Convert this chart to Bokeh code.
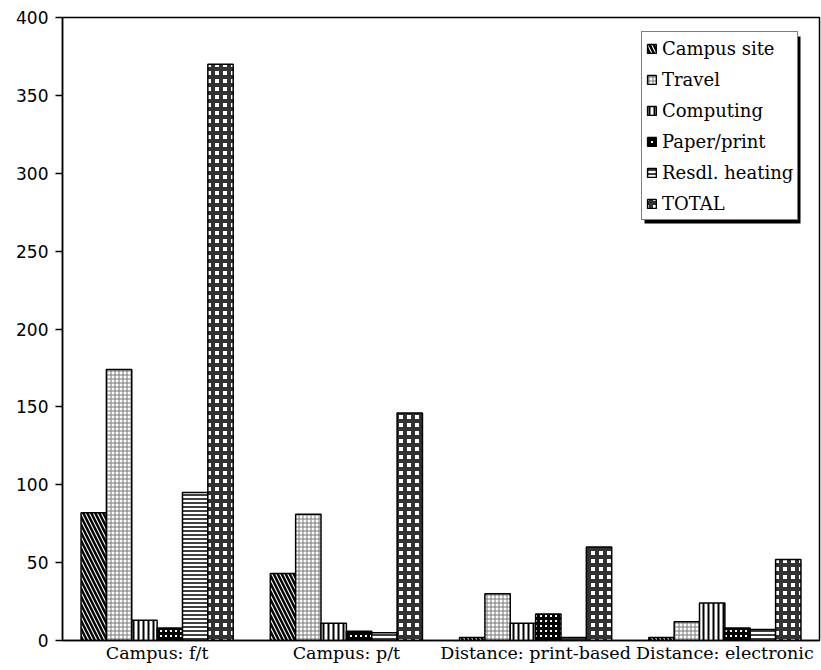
from bokeh.plotting import figure
from bokeh.models import (FactorRange, Range1d, Legend, LegendItem, FixedTicker,
                          BoxAnnotation, ColumnDataSource)
from bokeh.transform import dodge
from bokeh.embed import file_html
from bokeh.resources import INLINE

groups = ["Campus: f/t", "Campus: p/t", "Distance: print-based", "Distance: electronic"]
series = ["Campus site", "Travel", "Computing", "Paper/print", "Resdl. heating", "TOTAL"]
campus_site = [82, 43, 2, 2]
travel = [174, 81, 30, 12]
computing = [13, 11, 11, 24]
paper_print = [8, 6, 17, 8]
resdl_heating = [95, 5, 2, 7]
total = [370, 146, 60, 52]
y_ticks = [0, 50, 100, 150, 200, 250, 300, 350, 400]

values = [campus_site, travel, computing, paper_print, resdl_heating, total]
keys = ["campus_site", "travel", "computing", "paper_print", "resdl_heating", "total"]
src = ColumnDataSource(dict(group=groups, **{k: v for k, v in zip(keys, values)}))

SERIF = "DejaVu Serif"

styles = [
    dict(fill_color="white", hatch_pattern="left_diagonal_line", hatch_color="black", hatch_weight=2.5, hatch_scale=8),
    dict(fill_color="white", hatch_pattern="cross", hatch_color="#777777", hatch_weight=1, hatch_scale=4),
    dict(fill_color="white", hatch_pattern="vertical_line", hatch_color="black", hatch_weight=2, hatch_scale=5),
    dict(fill_color="white", hatch_pattern="cross", hatch_color="black", hatch_weight=3, hatch_scale=5),
    dict(fill_color="white", hatch_pattern="horizontal_line", hatch_color="black", hatch_weight=1.5, hatch_scale=4),
    dict(fill_color="white", hatch_pattern="cross", hatch_color="#333333", hatch_weight=4, hatch_scale=8),
]

p = figure(x_range=FactorRange(factors=groups, range_padding=0),
           y_range=Range1d(0, 400),
           width=821, height=668, output_backend="svg", toolbar_location=None,
           min_border_left=62, min_border_right=2, min_border_top=17, min_border_bottom=28)

bw = 0.134
renderers = []
for i, (k, st) in enumerate(zip(keys, styles)):
    r = p.vbar(x=dodge("group", (i - 2.5) * bw, range=p.x_range), top=k, width=bw,
               source=src, line_color="black", line_width=1.5, **st)
    renderers.append(r)

p.xgrid.visible = False
p.ygrid.visible = False
p.outline_line_color = "black"
p.outline_line_width = 1.5
p.background_fill_color = "white"

ya = p.yaxis[0]
ya.ticker = FixedTicker(ticks=y_ticks)
ya.major_tick_in = 0
ya.major_tick_out = 7
ya.minor_tick_line_color = None
ya.axis_line_width = 1.5
ya.major_tick_line_width = 1.5
ya.major_label_text_font = "DejaVu Sans"
ya.major_label_text_font_size = "17px"
ya.major_label_text_color = "black"
ya.major_label_standoff = 7

xa = p.xaxis[0]
xa.major_tick_line_color = None
xa.major_tick_in = 0
xa.major_tick_out = 0
xa.minor_tick_line_color = None
xa.minor_tick_in = 0
xa.minor_tick_out = 0
xa.axis_line_width = 1.5
xa.major_label_text_font = SERIF
xa.major_label_text_font_size = "17.5px"
xa.major_label_text_color = "black"
xa.major_label_standoff = 2

leg_x, leg_y, leg_w, leg_h = 579, 420, 156, 187
shadow = BoxAnnotation(left=leg_x + 3, right=leg_x + leg_w + 3,
                       top=leg_y + leg_h - 3, bottom=leg_y - 3,
                       left_units="screen", right_units="screen",
                       top_units="screen", bottom_units="screen",
                       fill_color="black", fill_alpha=1.0, line_color=None)
p.add_layout(shadow)

legend = Legend(items=[LegendItem(label=s, renderers=[r]) for s, r in zip(series, renderers)],
                location=(leg_x, leg_y))
legend.border_line_color = "black"
legend.border_line_width = 1.5
legend.background_fill_color = "white"
legend.background_fill_alpha = 1.0
legend.label_text_font = SERIF
legend.label_text_font_size = "18px"
legend.label_text_color = "black"
legend.glyph_width = 11
legend.glyph_height = 11
legend.label_standoff = 5
legend.padding = 4
legend.spacing = 7
legend.label_height = 24
legend.margin = 0
p.add_layout(legend, "center")

open("out.html", "w").write(file_html(p, INLINE))
